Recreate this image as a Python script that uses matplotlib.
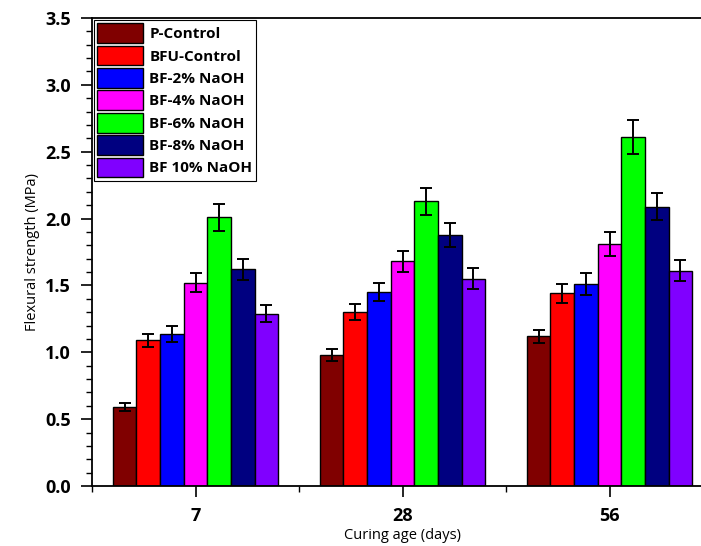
import matplotlib.pyplot as plt
import numpy as np
from matplotlib.ticker import MultipleLocator

plt.rcParams['font.family'] = ['Open Sans', 'DejaVu Sans']

ages = ['7', '28', '56']
series = ['P-Control', 'BFU-Control', 'BF-2% NaOH', 'BF-4% NaOH',
          'BF-6% NaOH', 'BF-8% NaOH', 'BF 10% NaOH']
colors = ['#800000', '#ff0000', '#0000ff', '#ff00ff',
          '#00ff00', '#000080', '#8000ff']

# flexural strength (MPa) per series, at 7 / 28 / 56 days
p_control = [0.59, 0.98, 1.12]
bfu_control = [1.09, 1.30, 1.44]
bf_2 = [1.14, 1.45, 1.51]
bf_4 = [1.52, 1.68, 1.81]
bf_6 = [2.01, 2.13, 2.61]
bf_8 = [1.62, 1.88, 2.09]
bf_10 = [1.29, 1.55, 1.61]

# error bars
err_p = [0.03, 0.045, 0.05]
err_bfu = [0.05, 0.06, 0.07]
err_2 = [0.06, 0.07, 0.08]
err_4 = [0.07, 0.08, 0.09]
err_6 = [0.10, 0.10, 0.13]
err_8 = [0.08, 0.09, 0.10]
err_10 = [0.06, 0.08, 0.08]

values = [p_control, bfu_control, bf_2, bf_4, bf_6, bf_8, bf_10]
errors = [err_p, err_bfu, err_2, err_4, err_6, err_8, err_10]

fig = plt.figure(figsize=(7.01, 5.46), dpi=100)
# right edge of the axes falls outside the picture, as in the original
ax = fig.add_axes([92/701, 60/546, 621/701, 468/546])

x = np.arange(len(ages))
w = 0.8/len(series)
for i in range(len(series)):
    pos = x - 0.4 + w/2 + i*w
    ax.bar(pos, values[i], w, color=colors[i], edgecolor='black',
           linewidth=1, label=series[i], zorder=2)
    ax.errorbar(pos, values[i], yerr=errors[i], fmt='none', ecolor='black',
                elinewidth=1.4, capsize=4, capthick=1.4, zorder=3)

ax.set_xlim(-0.5, 2.5)
ax.set_ylim(0, 3.5)
ax.set_xticks(x)
ax.set_xticklabels(ages)
ax.xaxis.set_minor_locator(MultipleLocator(0.5))
ax.yaxis.set_major_locator(MultipleLocator(0.5))
ax.yaxis.set_minor_locator(MultipleLocator(0.1))
ax.yaxis.set_major_formatter(plt.FormatStrFormatter('%.1f'))

ax.tick_params(which='major', direction='out', length=8, width=1.2,
               labelsize=13, pad=7)
ax.tick_params(which='minor', direction='out', length=4.5, width=1)
for lab in ax.get_xticklabels() + ax.get_yticklabels():
    lab.set_fontweight('bold')
for s in ax.spines.values():
    s.set_linewidth(1.3)

ax.set_xlabel('Curing age (days)', fontsize=10.5, labelpad=2)
ax.set_ylabel('Flexural strength (MPa)', fontsize=10.5, labelpad=4)

leg = ax.legend(loc='upper left', bbox_to_anchor=(0, 1), borderaxespad=0.1,
                prop={'weight': 'bold', 'size': 11}, handlelength=3.0,
                handleheight=1.6, labelspacing=0.18, handletextpad=0.4,
                borderpad=0.25, fancybox=False, edgecolor='black',
                framealpha=1)
leg.get_frame().set_linewidth(0.8)

fig.savefig('out.png', dpi=100)
